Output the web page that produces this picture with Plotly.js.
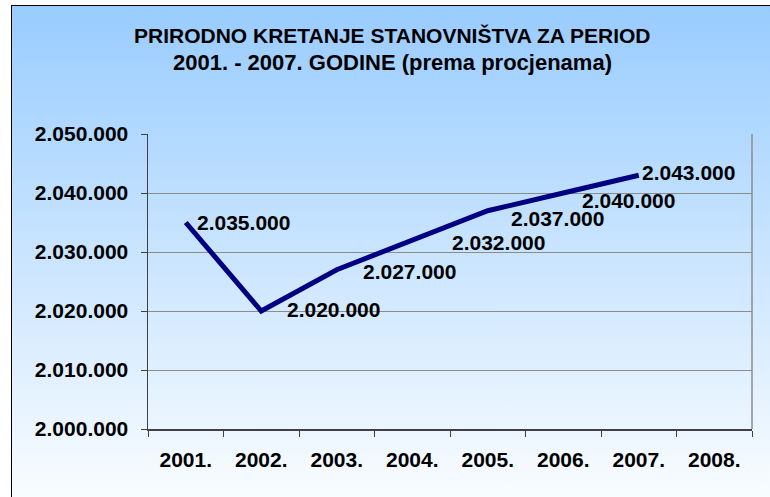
<!DOCTYPE html>
<html>
<head>
<meta charset="utf-8">
<script src="https://cdn.plot.ly/plotly-3.0.1.min.js"></script>
<style>
  html, body { margin: 0; padding: 0; overflow: hidden; background: #ffffff; }
  #frame {
    position: absolute; left: 11px; top: 5px; width: 800px; height: 520px;
    border-left: 1.5px solid #000; border-top: 1.5px solid #000;
    background: linear-gradient(to bottom, #99ccff 0%, #ffffff 100%);
  }
  #chart { position: absolute; left: 0; top: 0; width: 770px; height: 497px; }
</style>
</head>
<body>
<div id="frame"></div>
<div id="chart"></div>
<script>
var years = ['2001.', '2002.', '2003.', '2004.', '2005.', '2006.', '2007.', '2008.'];
var dataYears = ['2001.', '2002.', '2003.', '2004.', '2005.', '2006.', '2007.'];
var population = [2035000, 2020000, 2027000, 2032000, 2037000, 2040000, 2043000];
var titleLines = ['PRIRODNO KRETANJE STANOVNIŠTVA ZA PERIOD', '2001. - 2007. GODINE (prema procjenama)'];

// label placement, as in the original (pixels from the point)
var labelDx = [9, 24, 24, 38, 21, 17, 1];
var labelDy = [0, 2, -2, -2, -8, -7, 3];

var boldFont = 'Liberation Sans, Arial, sans-serif';

function fmt(v) {
  return String(v).replace(/\B(?=(\d{3})+(?!\d))/g, '.');
}

// x given as category index of the year on the axis
var labels = population.map(function (v, i) {
  return {
    xref: 'x',
    yref: 'y',
    x: years.indexOf(dataYears[i]),
    y: v,
    text: fmt(v),
    showarrow: false,
    xanchor: 'left',
    yanchor: 'middle',
    xshift: labelDx[i],
    yshift: labelDy[i],
    font: {family: boldFont, size: 21, weight: 'bold', color: '#000'}
  };
});

// title, two lines
var titleSizes = [21, 22];
var titleY = [1.334, 1.242];
var titles = titleLines.map(function (t, i) {
  return {
    xref: 'paper',
    yref: 'paper',
    x: 0.404,
    y: titleY[i],
    text: t,
    showarrow: false,
    xanchor: 'center',
    yanchor: 'middle',
    font: {family: boldFont, size: titleSizes[i], weight: 'bold', color: '#000'}
  };
});

var trace = {
  x: dataYears,
  y: population,
  type: 'scatter',
  mode: 'lines',
  line: {color: '#000080', width: 5},
  hoverinfo: 'skip'
};

var layout = {
  width: 770,
  height: 497,
  margin: {l: 148, r: 18, t: 134, b: 68},
  paper_bgcolor: 'rgba(0,0,0,0)',
  plot_bgcolor: 'rgba(0,0,0,0)',
  separators: ',.',
  showlegend: false,
  xaxis: {
    type: 'category',
    categoryorder: 'array',
    categoryarray: years,
    range: [-0.5, 7.5],
    tickson: 'boundaries',
    ticks: 'outside',
    ticklen: 6,
    tickcolor: '#404040',
    showgrid: false,
    showline: true,
    linecolor: '#404040',
    linewidth: 1.5,
    ticklabelstandoff: 11,
    tickfont: {family: boldFont, size: 21, weight: 'bold', color: '#000'},
    fixedrange: true
  },
  yaxis: {
    range: [2000000, 2050000],
    dtick: 10000,
    tick0: 2000000,
    tickformat: ',d',
    ticks: 'outside',
    ticklen: 6,
    tickcolor: '#404040',
    showgrid: true,
    gridcolor: '#8c8c8c',
    gridwidth: 1,
    zeroline: false,
    showline: true,
    linecolor: '#404040',
    linewidth: 1.5,
    ticklabelstandoff: 8,
    tickfont: {family: boldFont, size: 21, weight: 'bold', color: '#000'},
    fixedrange: true
  },
  shapes: [
    {type: 'line', xref: 'paper', yref: 'paper', x0: 1, x1: 1, y0: 0, y1: 1,
     line: {color: '#8c8c8c', width: 1.5}}
  ],
  annotations: titles.concat(labels)
};

Plotly.newPlot('chart', [trace], layout, {displayModeBar: false, staticPlot: true});
</script>
</body>
</html>
